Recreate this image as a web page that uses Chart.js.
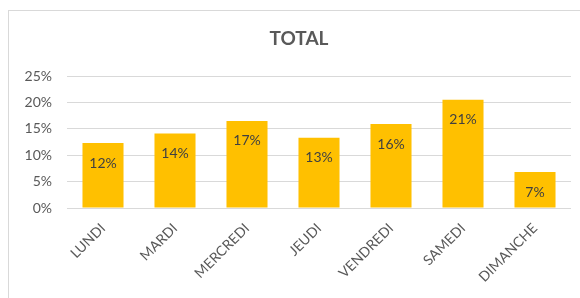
<!DOCTYPE html>
<html>
<head>
<meta charset="utf-8">
<script src="https://cdn.jsdelivr.net/npm/chart.js@4"></script>
<style>
  body { margin: 0; background: #fff; }
  #wrap { position: relative; width: 580px; height: 298px; }
  #frame { position: absolute; left: 8px; top: 10px; right: -2px; bottom: -2px;
           border-left: 1px solid #d9d9d9; border-top: 1px solid #d9d9d9; }
  canvas { position: absolute; left: 0; top: 0; }
</style>
</head>
<body>
<div id="wrap">
  <div id="frame"></div>
  <canvas id="chart" width="580" height="298"></canvas>
</div>
<script>
const days = ["LUNDI", "MARDI", "MERCREDI", "JEUDI", "VENDREDI", "SAMEDI", "DIMANCHE"];
const totals = [12.3, 14.1, 16.5, 13.3, 15.9, 20.5, 6.8];
const yTicks = [0, 5, 10, 15, 20, 25];
const chartTitle = "TOTAL";

const font = "Lato, Carlito, 'Liberation Sans', sans-serif";

// value labels inside the top of each bar + title centred like Excel's
const extras = {
  id: "extras",
  afterDatasetsDraw(chart) {
    const ctx = chart.ctx;
    const meta = chart.getDatasetMeta(0);
    ctx.save();
    ctx.font = "14px " + font;
    ctx.fillStyle = "#404040";
    ctx.textAlign = "center";
    ctx.textBaseline = "middle";
    meta.data.forEach((bar, i) => {
      ctx.fillText(Math.round(totals[i]) + "%", bar.x, bar.y + 20);
    });
    ctx.font = "bold 19px " + font;
    ctx.fillStyle = "#595959";
    ctx.fillText(chartTitle, 299, 39);
    ctx.restore();
  }
};

new Chart(document.getElementById("chart").getContext("2d"), {
  type: "bar",
  data: {
    labels: days,
    datasets: [{ label: chartTitle, data: totals, backgroundColor: "#ffc000",
                 categoryPercentage: 1, barPercentage: 0.57 }]
  },
  options: {
    responsive: false,
    animation: false,
    layout: { padding: { left: 0, right: 9, top: 76, bottom: 0 } },
    plugins: {
      legend: { display: false },
      tooltip: { enabled: false },
      title: { display: false }
    },
    scales: {
      y: {
        min: 0, max: 25,
        afterBuildTicks(scale) { scale.ticks = yTicks.map(v => ({ value: v })); },
        afterFit(scale) { scale.width = 67; },
        grid: { color: "#d9d9d9", drawTicks: false },
        border: { display: false },
        ticks: { color: "#595959", padding: 15, font: { family: font, size: 14 },
                 callback: v => v + "%" }
      },
      x: {
        afterFit(scale) { scale.height = 90; },
        grid: { display: false },
        border: { display: false },
        ticks: { color: "#595959", minRotation: 45, maxRotation: 45, padding: 4,
                 font: { family: font, size: 14 } }
      }
    }
  },
  plugins: [extras]
});
</script>
</body>
</html>
